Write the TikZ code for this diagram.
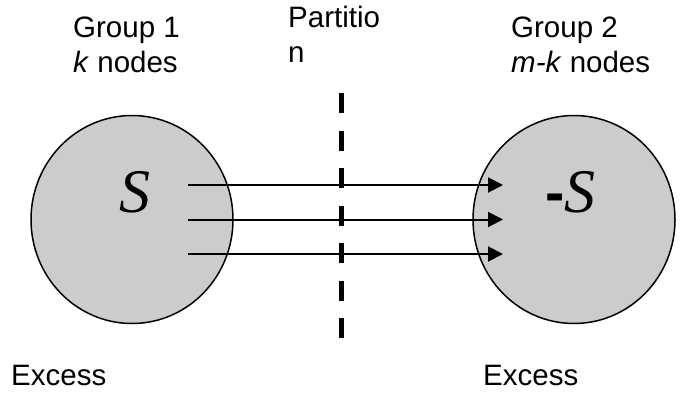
\documentclass[tikz,border=0pt]{standalone}
\usepackage{fontspec}
\setmainfont{Liberation Sans}
\newfontfamily\serifit{Liberation Serif}
\usetikzlibrary{arrows.meta,shapes.geometric}
\definecolor{grpfill}{RGB}{204,204,204}
\begin{document}
\begin{tikzpicture}[x=1pt,y=-1pt,
  lbl/.style={anchor=base west,inner sep=0pt,align=left,font=\fontsize{29.5}{35}\selectfont},
  grp/.style={draw=black,line width=1.5pt,fill=grpfill,ellipse,inner sep=0pt,minimum width=202pt,minimum height=208pt},
  flow/.style={line width=2pt,-{Triangle[length=15pt,width=15pt]}},
  part/.style={line width=5pt,dash pattern=on 20pt off 17.5pt},
  sym/.style={anchor=base west,inner sep=0pt}]
\useasboundingbox (0,0) rectangle (693,394);
\fill[white] (0,0) rectangle (693,394);
% groups
\node[grp] (g1) at (132,219.5) {};
\node[grp] (g2) at (574,219.5) {};
\node[sym] (s1) at (119,212) {\serifit\itshape\fontsize{62}{62}\selectfont S};
\node[sym] (s2) at (545,212) {\fontsize{58}{58}\selectfont\bfseries -{\serifit\mdseries\itshape\fontsize{62}{62}\selectfont S}};
% partition
\coordinate (ptop) at (341,93);
\coordinate (pbot) at (341,338);
\draw[part] (ptop) -- (pbot);
% flows
\coordinate (a1s) at (188,185); \coordinate (a1e) at (503,185);
\coordinate (a2s) at (188,219.5); \coordinate (a2e) at (503,219.5);
\coordinate (a3s) at (188,254); \coordinate (a3e) at (503,254);
\draw[flow] (a1s) -- (a1e);
\draw[flow] (a2s) -- (a2e);
\draw[flow] (a3s) -- (a3e);
% labels (base anchor = baseline of the last line)
\node[lbl] (grp1) at (73,72) {Group 1\\\textit{k} nodes};
\node[lbl] (part) at (288,62) {Partitio\\n};
\node[lbl] (grp2) at (511,72) {Group 2\\\textit{m-k} nodes};
\node[lbl] (ex1) at (11,385) {Excess};
\node[lbl] (ex2) at (483,385) {Excess};
\end{tikzpicture}
\end{document}
